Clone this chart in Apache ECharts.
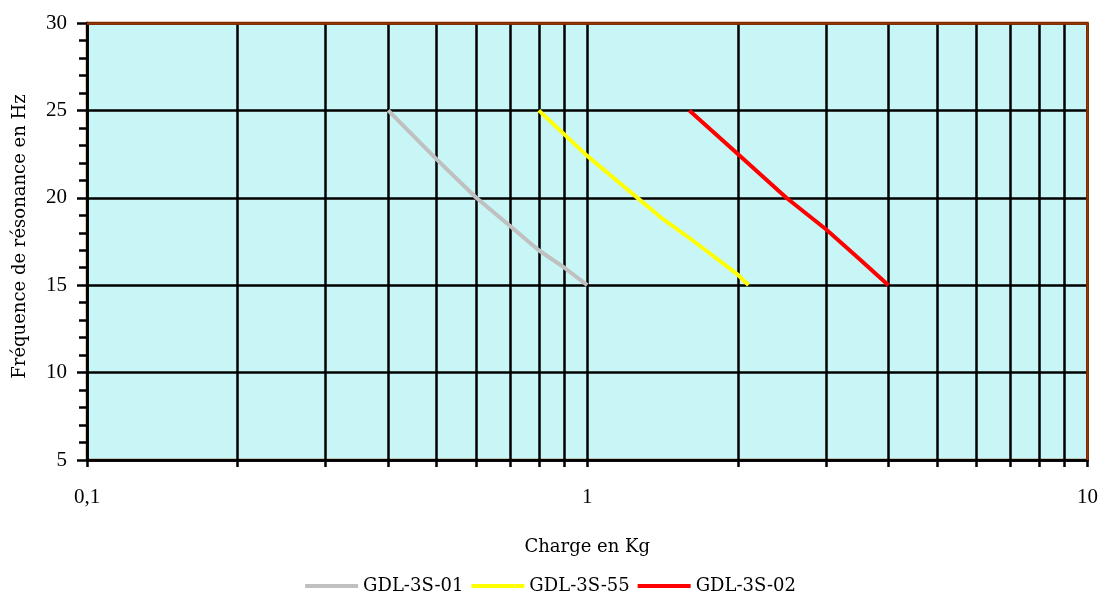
<!DOCTYPE html>
<html><head><meta charset="utf-8">
<script src="https://cdn.jsdelivr.net/npm/echarts@6/dist/echarts.min.js"></script>
<style>html,body{margin:0;padding:0;background:#fff}#c{width:1101px;height:597px}</style>
</head><body><div id="c"></div>
<script>
const seriesNames = ['GDL-3S-01', 'GDL-3S-55', 'GDL-3S-02'];
const grayX = [0.4, 0.5, 0.6, 0.7, 0.8, 0.9, 1.0];
const grayY = [25, 22.2, 20, 18.4, 17.0, 16.0, 15];
const yellowX = [0.8, 1.0, 1.2, 1.4, 1.6, 1.8, 2.0, 2.1];
const yellowY = [25, 22.4, 20.5, 18.9, 17.7, 16.6, 15.6, 15];
const redX = [1.6, 2.0, 2.5, 3.0, 3.5, 4.0];
const redY = [25, 22.5, 20, 18.2, 16.5, 15];
const xTickValues = [0.1,0.2,0.3,0.4,0.5,0.6,0.7,0.8,0.9,1,2,3,4,5,6,7,8,9,10];
const xLabelValues = [0.1, 1, 10];
const yMin = 5, yMax = 30, yStep = 5;

const pairs = (xs, ys) => xs.map((x, i) => [x, ys[i]]);
const serif = 'DejaVu Serif';
const numFont = 'Liberation Serif';
const chart = echarts.init(document.getElementById('c'));
const colors = ['#c0c0c0', '#ffff00', '#ff0000'];
const datas = [pairs(grayX, grayY), pairs(yellowX, yellowY), pairs(redX, redY)];

chart.setOption({
  animation: false,
  grid: { left: 87, right: 13, top: 23, bottom: 137, show: true, backgroundColor: '#c8f6f6', borderColor: '#993300', borderWidth: 2.5 },
  legend: {
    top: 572, left: 'center', itemWidth: 53, itemHeight: 4, itemGap: 8,
    textStyle: { fontFamily: serif, fontSize: 18, color: '#000' },
    data: seriesNames.map(n => ({ name: n, icon: 'rect' }))
  },
  xAxis: {
    type: 'log', logBase: 10, min: 0.1, max: 10,
    name: 'Charge en Kg', nameLocation: 'middle', nameGap: 78,
    nameTextStyle: { fontFamily: serif, fontSize: 18, color: '#000' },
    axisLine: { show: true, onZero: false, lineStyle: { color: '#000', width: 2.5 } },
    axisTick: { show: true, length: 7, customValues: xTickValues, lineStyle: { color: '#000', width: 2.5 } },
    axisLabel: { customValues: xLabelValues, margin: 27, fontFamily: numFont, fontSize: 21, color: '#000',
      formatter: v => String(+(+v).toPrecision(3)).replace('.', ',') },
    splitLine: { show: true, lineStyle: { color: '#000', width: 2.5 } },
    minorTick: { show: false }, minorSplitLine: { show: false }
  },
  yAxis: [{
    type: 'value', min: yMin, max: yMax, interval: yStep,
    name: 'Fréquence de résonance en Hz', nameLocation: 'middle', nameGap: 58,
    nameTextStyle: { fontFamily: serif, fontSize: 18, color: '#000', padding: [0, 0, 0, 10] },
    axisLine: { show: true, onZero: false, lineStyle: { color: '#000', width: 2.5 } },
    axisTick: { show: true, length: 10, lineStyle: { color: '#000', width: 2.5 } },
    minorTick: { show: true, splitNumber: 5, length: 8, lineStyle: { color: '#000', width: 2.5 } },
    axisLabel: { margin: 20, fontFamily: numFont, fontSize: 21, color: '#000' },
    splitLine: { show: true, lineStyle: { color: '#000', width: 2.5 } }
  }, {
    type: 'value', min: yMin, max: yMax, interval: yStep, position: 'left',
    axisLine: { show: false }, axisLabel: { show: false }, splitLine: { show: false },
    axisTick: { show: false },
    minorTick: { show: true, splitNumber: 5, length: 6, inside: true, lineStyle: { color: '#000', width: 2.5 } }
  }],
  series: seriesNames.map((n, i) => ({
    name: n, type: 'line', data: datas[i], showSymbol: false, symbol: 'none',
    lineStyle: { color: colors[i], width: 4 }, itemStyle: { color: colors[i] }, z: 5,
    markLine: i === 0 ? {
      silent: true, symbol: 'none', label: { show: false },
      lineStyle: { color: '#993300', width: 2.5, type: 'solid' },
      data: [{ yAxis: yMax }, { xAxis: 10 }]
    } : undefined
  }))
});
</script></body></html>
